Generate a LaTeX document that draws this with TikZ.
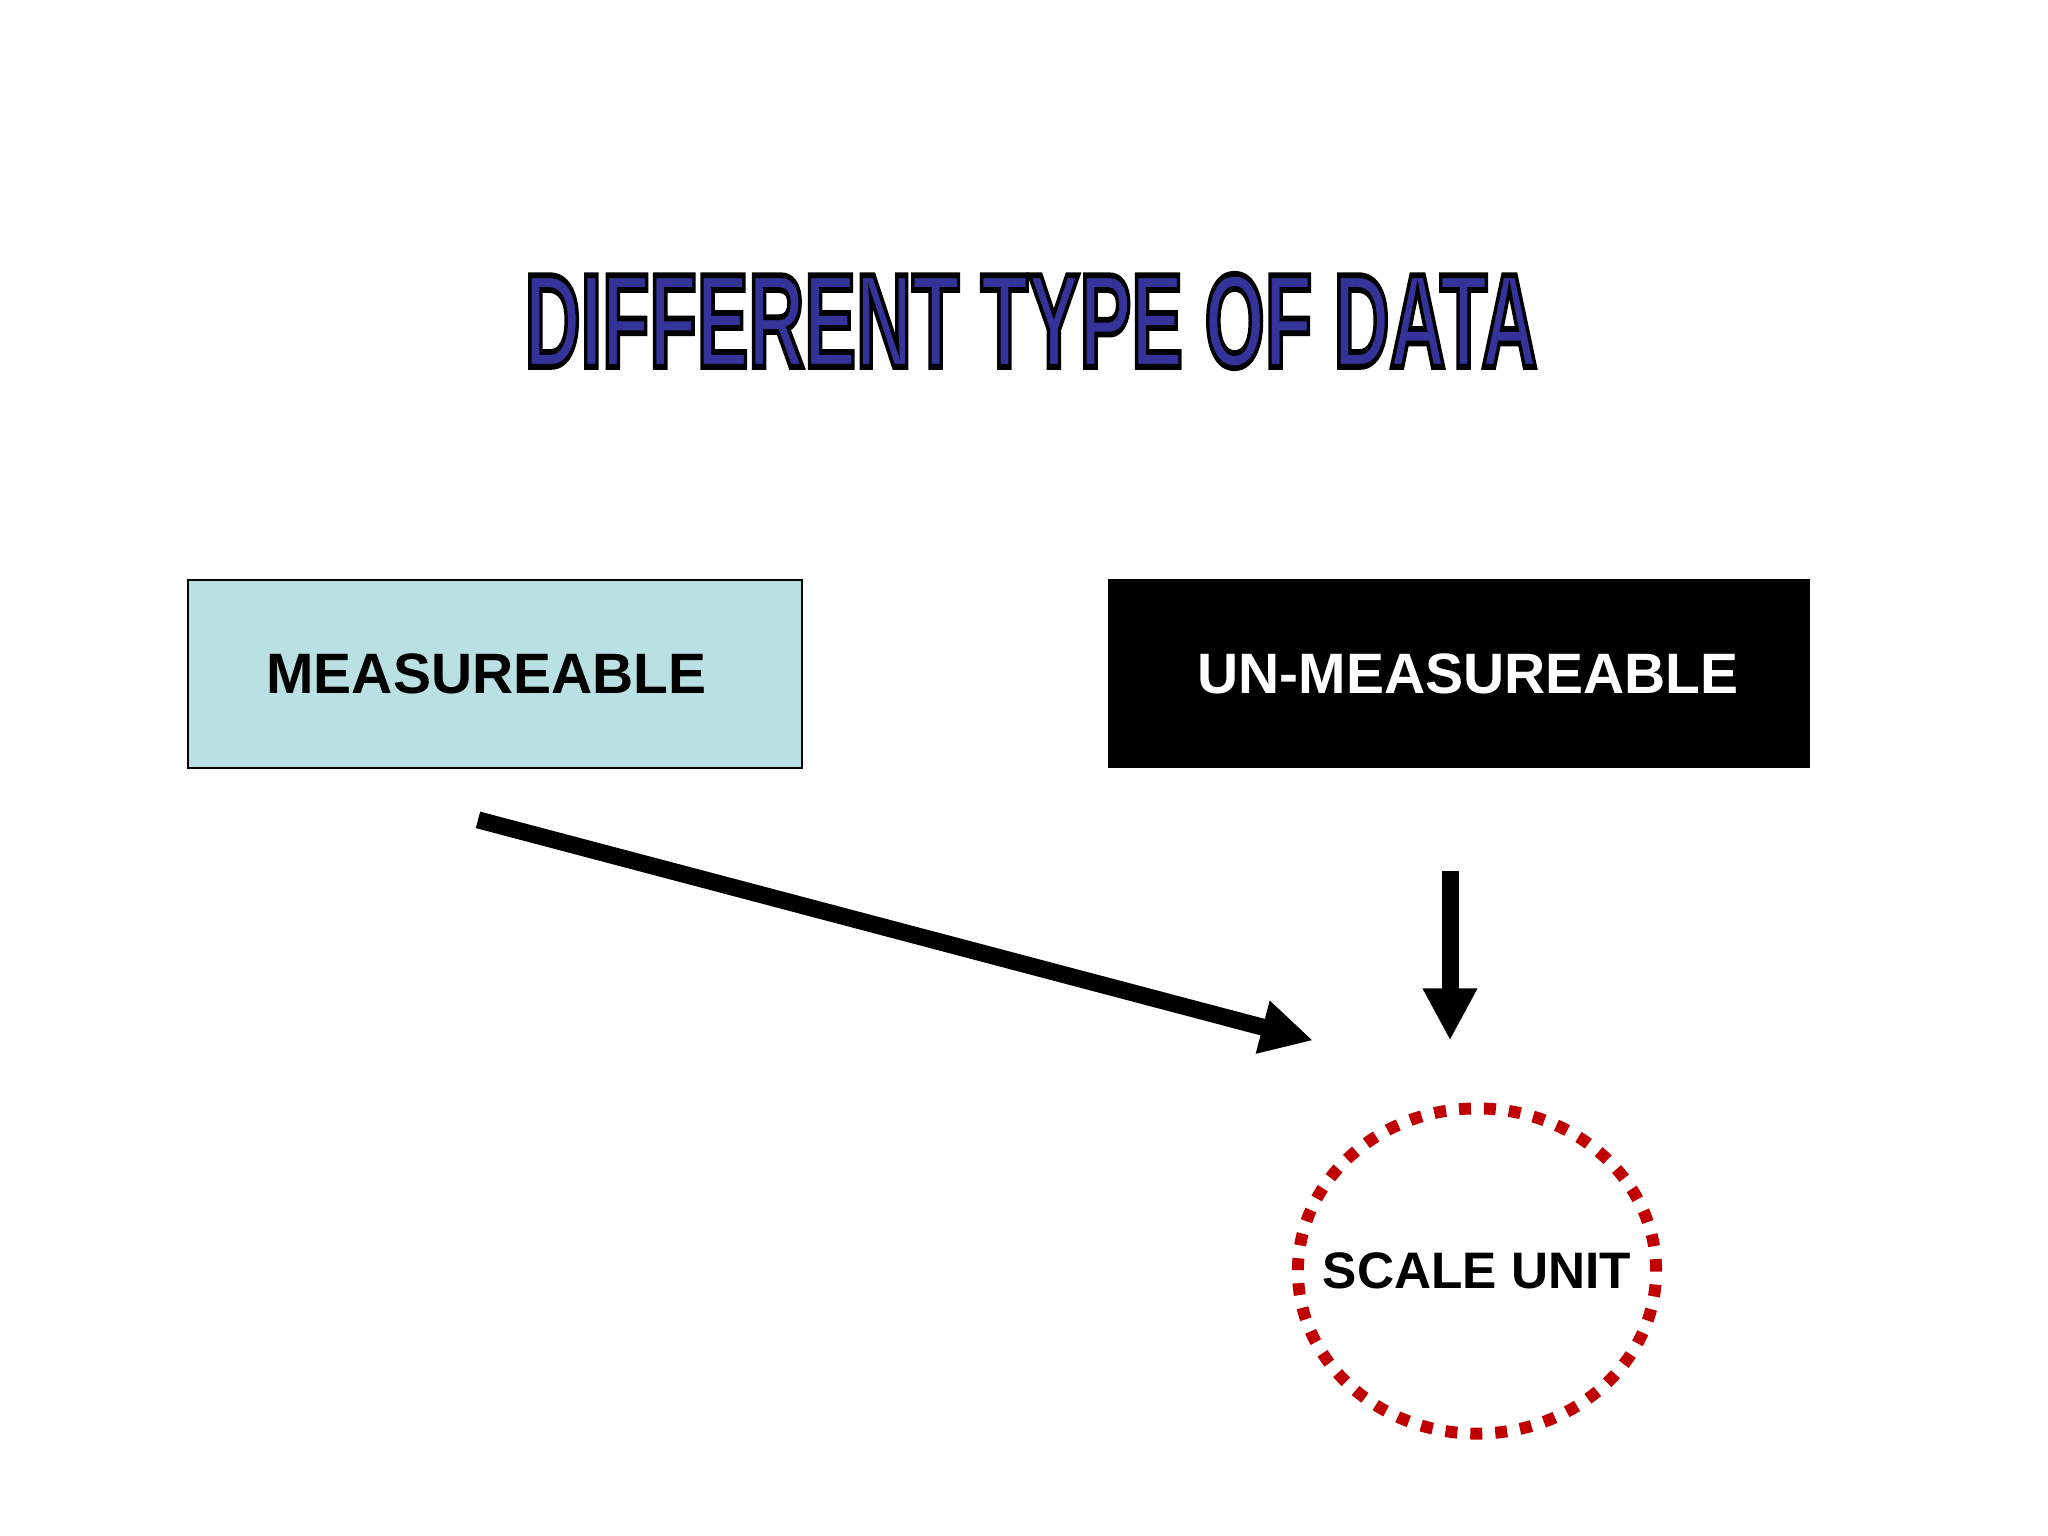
\documentclass[tikz,border=0pt]{standalone}
\usepackage{fontspec}
\setmainfont{Liberation Sans}
\usetikzlibrary{calc,arrows.meta,shapes.geometric}

\definecolor{titleblue}{HTML}{333399}
\definecolor{measfill}{RGB}{185,224,227}
\definecolor{scalered}{RGB}{192,0,0}

\newcommand{\outlinetext}[1]{\special{pdf:literal direct 0 0 0 RG 2 Tr 1.6 w}#1\special{pdf:literal direct 0 Tr}}

\begin{document}
\begin{tikzpicture}[x=0.01cm,y=-0.01cm,
  kind/.style={rectangle,minimum height=1.88cm,font={\fontsize{16.2}{19}\selectfont\bfseries}},
  link/.style={line width=4.84pt,-{Triangle[length=14.8pt,width=14.5pt]}}]
  \useasboundingbox (0,0) rectangle (2048,1536);

  \node (title) at (1031,321) {\color{titleblue}\resizebox{10.12cm}{0.93cm}{\fontsize{37}{40}\selectfont\bfseries\outlinetext{DIFFERENT TYPE OF DATA}}};

  \node[kind,draw,line width=0.45pt,fill=measfill,minimum width=6.14cm] (meas) at (495,674) {MEASUREABLE\kern0.17cm};
  \node[kind,fill=black,text=white,minimum width=7.02cm,minimum height=1.89cm] (unmeas) at (1459,673.5) {\kern0.18cm UN-MEASUREABLE};

  \node[ellipse,draw=scalered,line width=3.4pt,dash pattern=on 3.4pt off 3.7pt,minimum width=3.58cm,minimum height=3.25cm,
        label={[font={\fontsize{14.6}{17}\selectfont\bfseries}]center:SCALE UNIT}] (scale) at (1477,1271) {};

  \coordinate (measstart) at ($ (meas.south) + (-17,51) $);
  \coordinate (meastip) at ($ (scale.north) + (-164,-62) $);
  \coordinate (unmeasstart) at ($ (unmeas.south) + (-9,102) $);
  \coordinate (unmeastip) at ($ (scale.north) + (-27,-62) $);

  \draw[link] (measstart) -- (meastip);
  \draw[link] (unmeasstart) -- (unmeastip);
\end{tikzpicture}
\end{document}
